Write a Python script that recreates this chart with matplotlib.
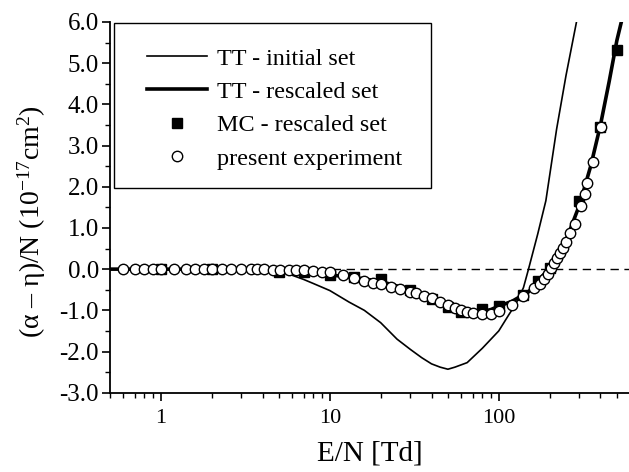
import matplotlib
matplotlib.use("Agg")
import matplotlib.pyplot as plt
from matplotlib.patches import Rectangle
from matplotlib.ticker import (FixedLocator, FixedFormatter, FuncFormatter,
                               MultipleLocator, NullFormatter, LogLocator)

plt.rcParams["font.family"] = ["Liberation Serif", "DejaVu Serif"]
plt.rcParams["mathtext.fontset"] = "custom"
plt.rcParams["mathtext.rm"] = "Liberation Serif"
plt.rcParams["mathtext.it"] = "Liberation Serif:italic"

# TT - initial set (thin line)
tt_init_x = [0.5, 1, 2, 3, 4, 5, 6, 7, 8, 10, 13, 16, 20, 25, 30, 35, 40, 45, 50,
             55, 65, 80, 100, 115, 126, 140, 150, 170, 190, 220, 250, 290]
tt_init_y = [0.0, 0.0, 0.0, 0.0, -0.01, -0.05, -0.15, -0.25, -0.35, -0.52, -0.8,
             -1.0, -1.3, -1.7, -1.95, -2.15, -2.3, -2.38, -2.43, -2.38, -2.27,
             -1.92, -1.5, -1.1, -0.85, -0.45, 0.0, 0.85, 1.66, 3.4, 4.7, 6.05]

# TT - rescaled set (thick line)
tt_res_x = [0.5, 1, 2, 3, 4, 5, 7, 10, 15, 20, 30, 40, 50, 60, 70, 80, 90, 100,
            120, 150, 175, 200, 250, 300, 350, 400, 450, 500, 535]
tt_res_y = [0.0, 0.0, 0.0, -0.01, -0.02, -0.05, -0.08, -0.14, -0.22, -0.3, -0.5,
            -0.7, -0.88, -0.98, -1.03, -1.03, -0.98, -0.9, -0.78, -0.55, -0.25,
            0.05, 0.7, 1.55, 2.5, 3.5, 4.55, 5.55, 6.05]

# MC - rescaled set (squares)
mc_x = [1, 2, 5, 7, 10, 14, 20, 30, 40, 50, 60, 80, 100, 140, 170, 200, 300, 400, 500]
mc_y = [0.0, 0.0, -0.07, -0.08, -0.15, -0.2, -0.25, -0.5, -0.72, -0.93, -1.03,
        -0.97, -0.9, -0.63, -0.3, 0.03, 1.65, 3.45, 5.32]

# present experiment (open circles)
exp_x = [0.6, 0.7, 0.8, 0.9, 1.0, 1.2, 1.4, 1.6, 1.8, 2.0, 2.3, 2.6, 3.0, 3.4,
         3.7, 4.1, 4.6, 5.1, 5.7, 6.3, 7.0, 8.0, 9.0, 10, 12, 14, 16, 18, 20,
         23, 26, 30, 32.5, 36, 40, 45, 50, 55, 60, 65, 70, 80, 90, 100, 120,
         140, 162, 176, 186, 195, 205, 213, 221, 229, 239, 250, 264, 281, 307,
         325, 335, 362, 403]
exp_y = [0.0, 0.0, 0.0, 0.0, 0.0, 0.0, 0.0, 0.0, 0.0, 0.0, 0.0, 0.0, 0.0, 0.0,
         0.0, 0.0, -0.01, -0.01, -0.02, -0.02, -0.02, -0.04, -0.06, -0.08, -0.15,
         -0.22, -0.28, -0.33, -0.36, -0.43, -0.49, -0.55, -0.59, -0.65, -0.71,
         -0.79, -0.87, -0.95, -1.0, -1.03, -1.07, -1.09, -1.08, -1.01, -0.87,
         -0.65, -0.46, -0.35, -0.23, -0.11, 0.02, 0.15, 0.27, 0.38, 0.51, 0.65,
         0.87, 1.1, 1.54, 1.82, 2.08, 2.59, 3.45]

labels = ["TT - initial set", "TT - rescaled set", "MC - rescaled set",
          "present experiment"]

W, H = 629, 472
fig = plt.figure(figsize=(W / 100, H / 100), dpi=100)
ax = fig.add_axes([110 / W, 79.3 / H, 519 / W, 370.7 / H])

ax.axhline(0, color="black", lw=1.0, ls=(0, (6, 4)), zorder=1)
ax.plot(tt_init_x, tt_init_y, color="black", lw=1.2, zorder=2, label=labels[0])
ax.plot(tt_res_x, tt_res_y, color="black", lw=2.6, zorder=2, label=labels[1])
ax.plot(mc_x, mc_y, ls="none", marker="s", ms=7.5, color="black",
        zorder=3, label=labels[2])
ax.plot(exp_x, exp_y, ls="none", marker="o", ms=7.5, mfc="white",
        mec="black", mew=1.0, zorder=4, label=labels[3])

ax.set_xscale("log")
ax.set_xlim(0.5, 590)
ax.set_ylim(-3.0, 6.0)

ax.xaxis.set_major_locator(FixedLocator([1, 10, 100]))
ax.xaxis.set_major_formatter(FixedFormatter(["1", "10", "100"]))
ax.xaxis.set_minor_locator(LogLocator(base=10, subs=range(2, 10), numticks=20))
ax.xaxis.set_minor_formatter(NullFormatter())
ax.yaxis.set_major_locator(MultipleLocator(1.0))
ax.yaxis.set_minor_locator(MultipleLocator(0.5))
ax.yaxis.set_major_formatter(FuncFormatter(lambda v, p: f"{v:.1f}"))

for s in ["top", "right"]:
    ax.spines[s].set_visible(False)
for s in ["left", "bottom"]:
    ax.spines[s].set_linewidth(1.3)

ax.tick_params(which="major", direction="out", length=6, width=1.2,
               labelsize=16, pad=6)
ax.tick_params(which="minor", direction="out", length=3.5, width=1.0)
ax.tick_params(axis="y", labelsize=18, pad=2)

ax.set_xlabel("E/N [Td]", fontsize=21, labelpad=9)
fig.text(32 / W, 1 - 222 / H, "(α – η)/N (10$^{-17}$cm$^{2}$)",
         fontsize=20, rotation=90, ha="center", va="center")

# legend frame drawn by hand so its padding matches the original
ax.add_patch(Rectangle((114 / W, 1 - 187.7 / H), 317 / W, 165 / H,
                       transform=fig.transFigure, facecolor="white",
                       edgecolor="black", lw=1.0, zorder=5, clip_on=False))
leg = ax.legend(loc="upper left", bbox_to_anchor=(122 / W, 1 - 22.7 / H),
                bbox_transform=fig.transFigure, borderaxespad=0,
                fontsize=17.4, frameon=False,
                handlelength=2.5, handletextpad=0.4, labelspacing=0.475,
                borderpad=1.03, numpoints=1)
leg.set_zorder(6)

fig.savefig("out.png", dpi=100)
